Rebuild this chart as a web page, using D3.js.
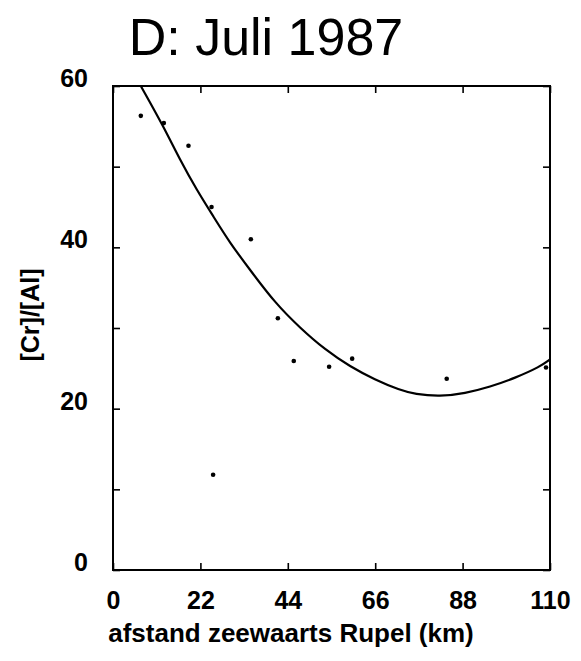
<!DOCTYPE html>
<html>
<head>
<meta charset="utf-8">
<script src="https://cdn.jsdelivr.net/npm/d3@7"></script>
<style>
  body { margin: 0; background: #fff; }
  svg { font-family: "Liberation Sans", Arial, sans-serif; }
  .axis text { font-weight: bold; fill: #000; }
  .axis line { stroke: #000; stroke-width: 1.6; }
</style>
</head>
<body>
<svg width="581" height="661"></svg>
<script>
// measured points (distance km, Cr/Al ratio)
var distKm = [7.0, 12.8, 19.0, 24.8, 25.2, 34.7, 41.5, 45.5, 54.4, 60.2, 84.0, 109.0];
var ratio  = [56.3, 55.4, 52.6, 45.0, 11.8, 41.0, 31.2, 25.9, 25.2, 26.2, 23.7, 25.1];

// fitted curve
var fitX = [7.0, 12.7, 16.9, 21.1, 25.3, 29.5, 34.5, 40.8, 47.1, 53.4, 59.7, 65.9, 72.2, 76.0, 82.3, 88.6, 94.9, 101.2, 107.5, 110];
var fitY = [60.0, 55.0, 50.8, 47.1, 43.8, 40.5, 37.2, 33.1, 30.0, 27.3, 25.2, 23.6, 22.3, 21.8, 21.5, 21.9, 22.7, 23.8, 25.2, 26.1];

var xTicks = [0, 22, 44, 66, 88, 110];
var yTicks = [0, 10, 20, 30, 40, 50, 60];
var yLabels = [0, 20, 40, 60];

var svg = d3.select("svg"),
    margin = {top: 86, right: 31, bottom: 91, left: 113},
    width = +svg.attr("width") - margin.left - margin.right,
    height = +svg.attr("height") - margin.top - margin.bottom;

var x = d3.scaleLinear().domain([0, 110]).range([0, width]),
    y = d3.scaleLinear().domain([0, 60]).range([height, 0]);

var g = svg.append("g")
    .attr("transform", "translate(" + margin.left + "," + margin.top + ")");

svg.append("text")
    .attr("x", 266)
    .attr("y", 55)
    .attr("text-anchor", "middle")
    .style("font-size", "52px")
    .text("D: Juli 1987");

// axes, ticks pointing inward
var left = g.append("g").attr("class", "axis")
    .call(d3.axisLeft(y).tickValues(yTicks).tickSize(-7).tickPadding(25)
      .tickFormat(function(d) { return yLabels.indexOf(d) >= 0 ? d : ""; }));
left.selectAll("text").attr("dy", "0.02em").style("font-size", "25px");

var bottom = g.append("g").attr("class", "axis")
    .attr("transform", "translate(0," + height + ")")
    .call(d3.axisBottom(x).tickValues(xTicks).tickSize(-7).tickPadding(21));
bottom.selectAll("text").style("font-size", "25px");

g.append("g").attr("class", "axis")
    .call(d3.axisTop(x).tickValues(xTicks).tickSize(-7).tickFormat(""));

g.append("g").attr("class", "axis")
    .attr("transform", "translate(" + width + ",0)")
    .call(d3.axisRight(y).tickValues(yTicks).tickSize(-7).tickFormat(""));

g.selectAll(".domain").remove();

g.append("rect")
    .attr("width", width)
    .attr("height", height)
    .attr("fill", "none")
    .attr("stroke", "#000")
    .attr("stroke-width", 2);

var fit = d3.line()
    .curve(d3.curveBasis)
    .x(function(d, i) { return x(fitX[i]); })
    .y(function(d) { return y(d); });

g.append("path")
    .attr("d", fit(fitY))
    .attr("fill", "none")
    .attr("stroke", "#000")
    .attr("stroke-width", 2.2);

g.selectAll("circle")
    .data(ratio)
    .enter().append("circle")
    .attr("cx", function(d, i) { return x(distKm[i]); })
    .attr("cy", function(d) { return y(d); })
    .attr("r", 2.3)
    .attr("fill", "#000");

svg.append("text")
    .attr("x", 291)
    .attr("y", 642)
    .attr("text-anchor", "middle")
    .style("font-size", "26px")
    .style("font-weight", "bold")
    .text("afstand zeewaarts Rupel (km)");

svg.append("text")
    .attr("transform", "translate(39,315)rotate(-90)")
    .attr("text-anchor", "middle")
    .style("font-size", "25px")
    .style("font-weight", "bold")
    .text("[Cr]/[Al]");
</script>
</body>
</html>
